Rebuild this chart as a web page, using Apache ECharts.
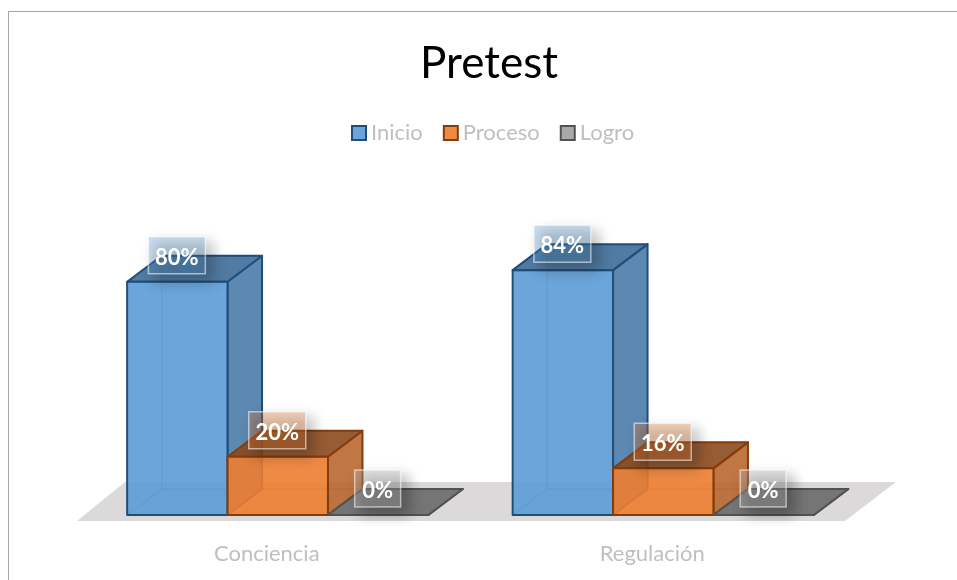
<!DOCTYPE html>
<html>
<head>
<meta charset="utf-8">
<style>
  html, body { margin: 0; padding: 0; background: #fff; }
  #frame { position: absolute; left: 8px; top: 11px; right: -5px; bottom: -5px; border-left: 1px solid #a6a6a6; border-top: 1px solid #a6a6a6; }
  #mychart { width: 957px; height: 580px; }
</style>
</head>
<body>
<div id="frame"></div>
<div id="mychart" style="position:absolute;left:0;top:0"></div>
<script src="https://cdn.jsdelivr.net/npm/echarts@6/dist/echarts.min.js"></script>
<script>
const catName = ["Conciencia", "Regulación"];
const inicio = [80, 84];
const proceso = [20, 16];
const logro = [0, 0];

const barW = 100.4;
const shiftX = 11;
const depthX = 34.5;
const depthY = 26;
const font = "Lato";

// front, side, top, edge
const looks = {
  Inicio: { front: "rgba(91,155,213,0.9)", side: "rgba(78,126,170,0.92)", top: "rgba(66,112,155,0.92)", edge: "#1f4e79", tint: "rgba(91,155,213,0.3)", legend: "#6ca3d8" },
  Proceso: { front: "rgba(237,125,49,0.9)", side: "rgba(184,100,42,0.88)", top: "rgba(140,74,30,0.9)", edge: "#843c0c", tint: "rgba(237,125,49,0.3)", legend: "#ef8a46" },
  Logro: { front: "rgba(165,165,165,0.9)", side: "rgba(110,110,110,0.9)", top: "rgba(108,108,108,0.92)", edge: "#525252", tint: "rgba(190,190,190,0.35)", legend: "#a9a9a9" }
};

function face(pts, fill, stroke, lw) {
  return { type: "polygon", shape: { points: pts }, style: { fill: fill, stroke: stroke, lineWidth: lw, lineJoin: "round" } };
}

function drawBar(name, slot) {
  const look = looks[name];
  return function (params, api) {
    const top = api.coord([api.value(0), api.value(1)]);
    const base = api.coord([api.value(0), 0]);
    const x0 = base[0] + shiftX + (slot - 1.5) * barW;
    const x1 = x0 + barW;
    const yb = base[1];
    const yt = top[1];
    const kids = [];
    // back edges seen through the front
    if (api.value(1) > 0) {
      kids.push({ type: "polyline", shape: { points: [[x0 + depthX, yt - depthY], [x0 + depthX, yb - depthY], [x1 + depthX, yb - depthY]] }, style: { fill: null, stroke: look.edge, opacity: 0.35, lineWidth: 1.5 } });
      kids.push({ type: "line", shape: { x1: x0, y1: yb, x2: x0 + depthX, y2: yb - depthY }, style: { stroke: look.edge, opacity: 0.35, lineWidth: 1.5 } });
    }
    kids.push(face([[x1, yt], [x1 + depthX, yt - depthY], [x1 + depthX, yb - depthY], [x1, yb]], look.side, look.edge, 2));
    kids.push(face([[x0, yt], [x0 + depthX, yt - depthY], [x1 + depthX, yt - depthY], [x1, yt]], look.top, look.edge, 2));
    kids.push(face([[x0, yt], [x1, yt], [x1, yb], [x0, yb]], look.front, look.edge, 2));

    const text = api.value(1) + "%";
    const bw = 11 * text.length + 24;
    const bh = 37;
    const bx = (x0 + x1) / 2 - 0.5 - bw / 2;
    const by = yt - 26.5 - bh / 2;
    kids.push({ type: "rect", shape: { x: bx, y: by, width: bw, height: bh }, style: { fill: look.tint, stroke: "rgba(255,255,255,0.55)", lineWidth: 1.5, shadowBlur: 14, shadowOffsetX: 7, shadowOffsetY: 7, shadowColor: "rgba(0,0,0,0.75)" } });
    kids.push({ type: "text", style: { x: bx + bw / 2, y: by + bh / 2 + 2.5, text: text, fill: "#ffffff", font: "bold 22px " + font, align: "center", verticalAlign: "middle" } });
    return { type: "group", children: kids };
  };
}

function drawFloor(params, api) {
  const base = api.coord([0, 0]);
  const cs = params.coordSys;
  const l = cs.x + 3;
  const r = cs.x + cs.width;
  const y = base[1] + 6;
  return face([[l, y], [r, y], [r + 51, y - 39], [l + 48, y - 39]], "#dbd9d9", null, 0);
}

function barSeries(name, slot, values) {
  return {
    name: name,
    type: "custom",
    renderItem: drawBar(name, slot),
    encode: { x: 0, y: 1 },
    itemStyle: { color: looks[name].legend, borderColor: looks[name].edge, borderWidth: 2 },
    data: catName.map((c, i) => [i, values[i]]),
    z: 3
  };
}

function initChart() {
  const chart = echarts.init(document.getElementById("mychart"));
  const option = {
    animation: false,
    title: {
      text: "Pretest",
      left: 484,
      top: 37,
      textAlign: "center",
      textStyle: { color: "#000000", fontFamily: font, fontWeight: "normal", fontSize: 44 }
    },
    legend: {
      data: ["Inicio", "Proceso", "Logro"],
      left: 346,
      top: 117,
      icon: "rect",
      itemWidth: 14,
      itemHeight: 14,
      itemGap: 20,
      textStyle: { color: "#bfbfbf", fontFamily: font, fontSize: 22 }
    },
    grid: { left: 74, width: 771, top: 223.5, height: 291.5 },
    xAxis: {
      type: "category",
      data: catName,
      axisLine: { show: false },
      axisTick: { show: false },
      axisLabel: { color: "#bfbfbf", fontFamily: font, fontSize: 22, margin: 28 }
    },
    yAxis: { type: "value", min: 0, max: 100, show: false, splitLine: { show: false } },
    series: [
      { type: "custom", name: "floor", renderItem: drawFloor, data: [[0, 0]], encode: { x: 0, y: 1 }, silent: true, z: 1 },
      barSeries("Inicio", 0, inicio),
      barSeries("Proceso", 1, proceso),
      barSeries("Logro", 2, logro)
    ]
  };
  chart.setOption(option);
}
initChart();
</script>
</body>
</html>
